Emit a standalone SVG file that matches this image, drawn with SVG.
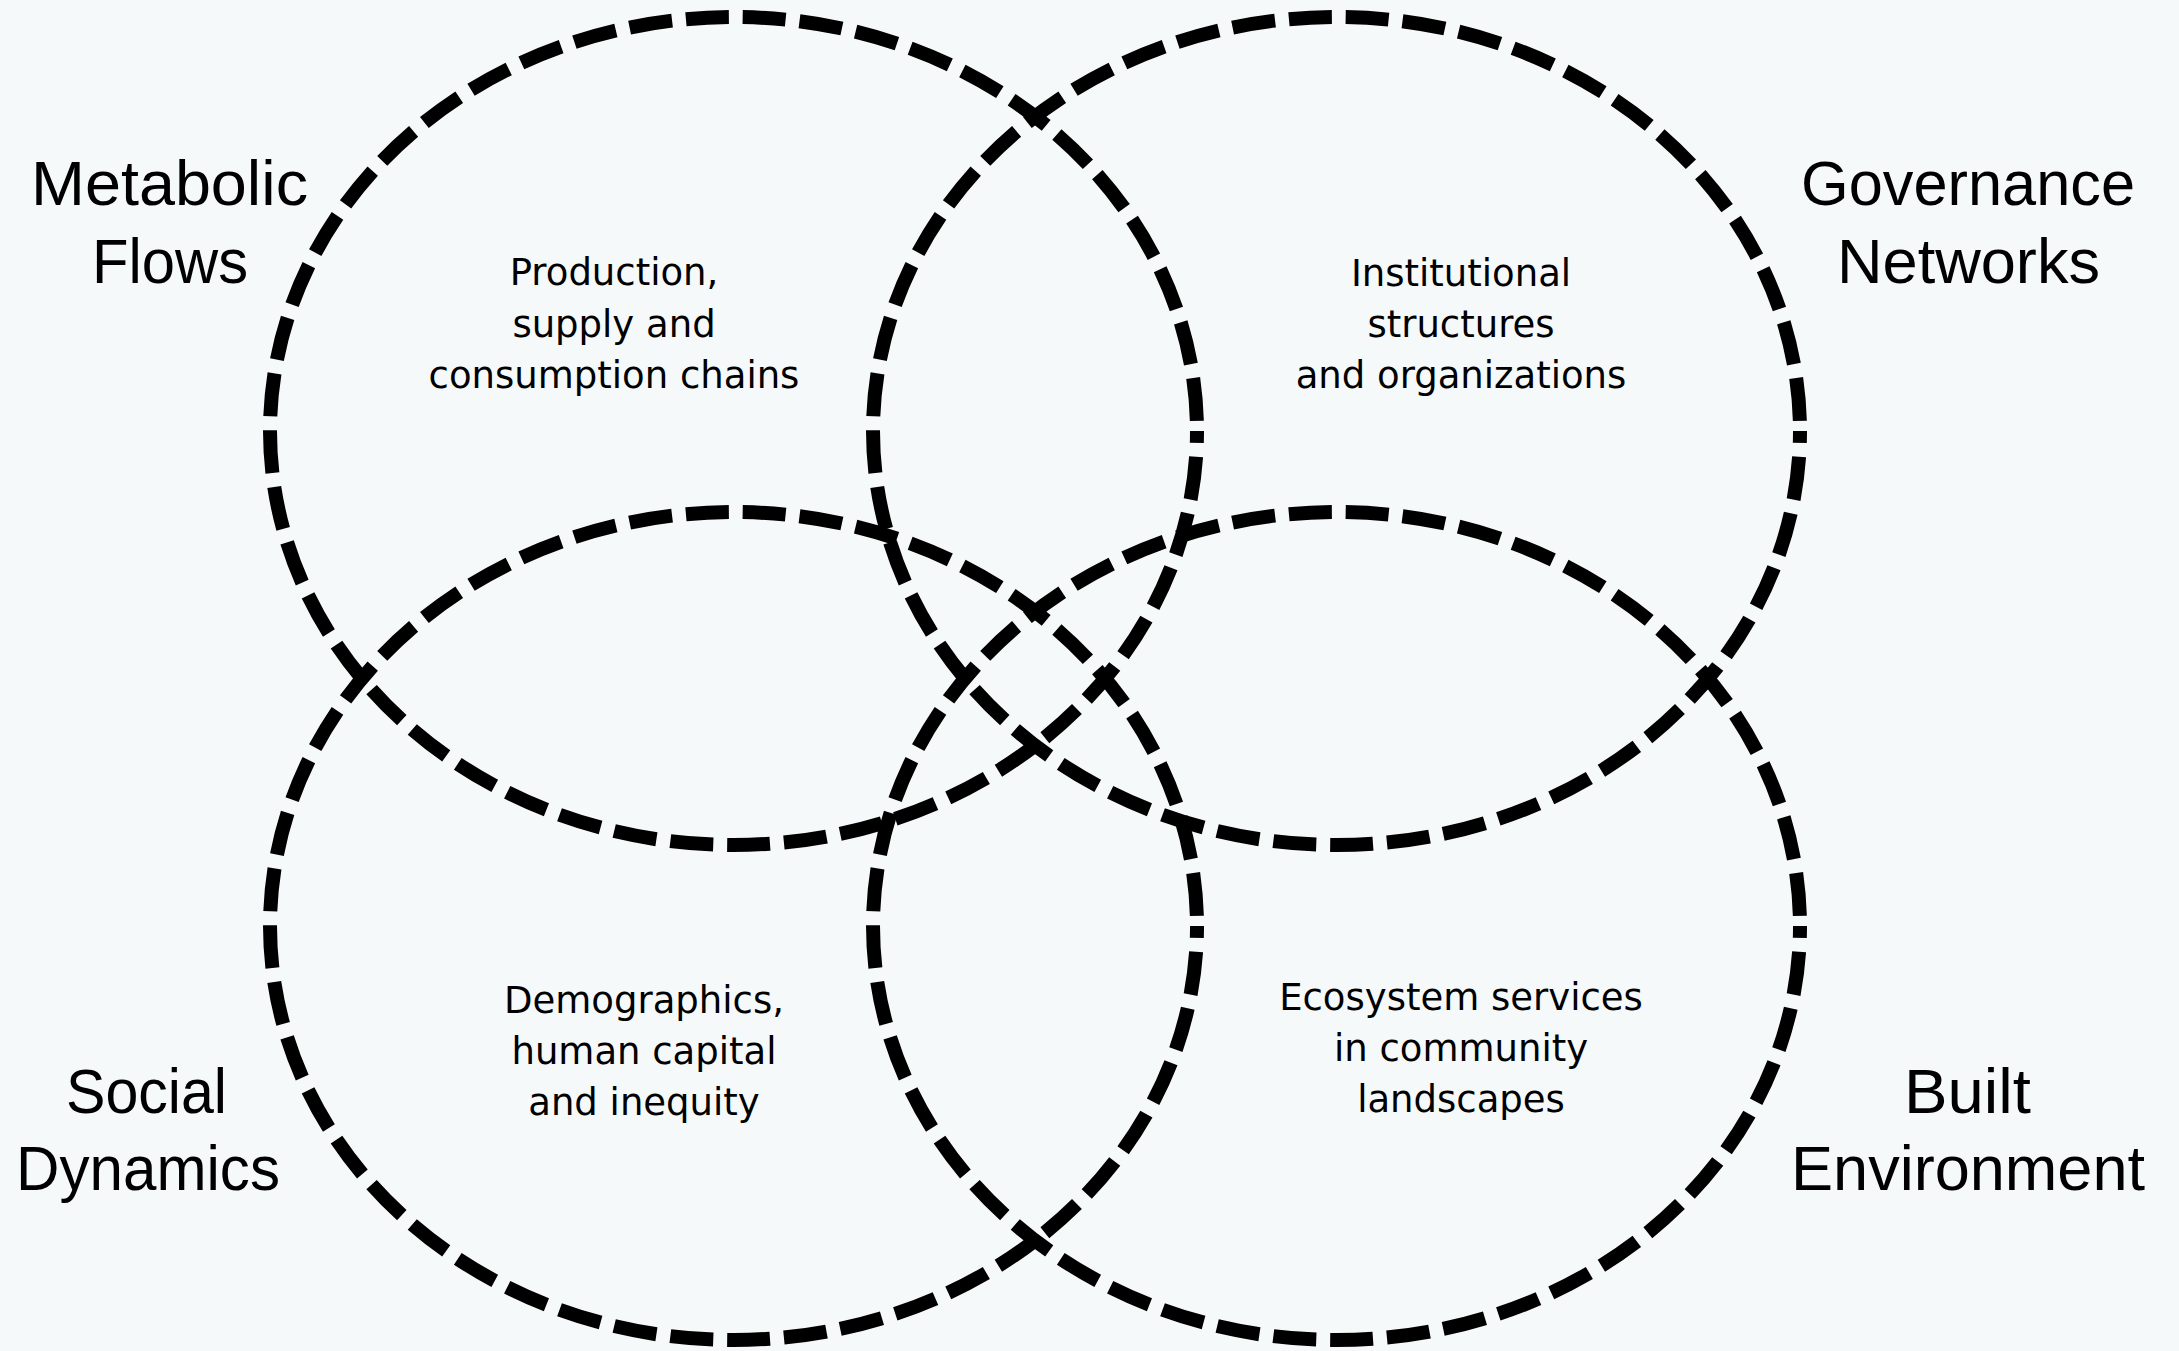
<svg xmlns="http://www.w3.org/2000/svg" width="2179" height="1351" viewBox="0 0 2179 1351">
<style>
.ring{fill:none;stroke:#000;stroke-width:14;stroke-dasharray:43 14;stroke-dashoffset:31}
.big{font-family:"Liberation Sans",Arial,sans-serif;font-size:63px;fill:#000;text-anchor:middle}
.small{font-family:"DejaVu Sans","Liberation Sans",sans-serif;font-size:37px;fill:#000;text-anchor:middle}
</style>
<rect x="0" y="0" width="2179" height="1351" fill="#f6f9fa"/>
<g id="connectors"/>
<g id="metabolic-flows">
<ellipse class="ring" cx="733.5" cy="431" rx="463.5" ry="414"/>
<text class="big" x="169.5" y="205" textLength="277" lengthAdjust="spacingAndGlyphs">Metabolic</text>
<text class="big" x="170" y="283" textLength="156" lengthAdjust="spacingAndGlyphs">Flows</text>
<text class="small" x="614" y="285">Production,</text>
<text class="small" x="614" y="337">supply and</text>
<text class="small" x="614" y="388">consumption chains</text>
</g>
<g id="governance-networks">
<ellipse class="ring" cx="1336.5" cy="431" rx="463.5" ry="414"/>
<text class="big" x="1968" y="205" textLength="334" lengthAdjust="spacingAndGlyphs">Governance</text>
<text class="big" x="1968.5" y="283" textLength="263" lengthAdjust="spacingAndGlyphs">Networks</text>
<text class="small" x="1461" y="286">Institutional</text>
<text class="small" x="1461" y="337">structures</text>
<text class="small" x="1461" y="388">and organizations</text>
</g>
<g id="social-dynamics">
<ellipse class="ring" cx="733.5" cy="926" rx="463.5" ry="414"/>
<text class="big" x="146.5" y="1113" textLength="161" lengthAdjust="spacingAndGlyphs">Social</text>
<text class="big" x="148" y="1190" textLength="264" lengthAdjust="spacingAndGlyphs">Dynamics</text>
<text class="small" x="644" y="1013">Demographics,</text>
<text class="small" x="644" y="1064">human capital</text>
<text class="small" x="644" y="1115">and inequity</text>
</g>
<g id="built-environment">
<ellipse class="ring" cx="1336.5" cy="926" rx="463.5" ry="414"/>
<text class="big" x="1967.5" y="1113" textLength="127" lengthAdjust="spacingAndGlyphs">Built</text>
<text class="big" x="1968" y="1190" textLength="354" lengthAdjust="spacingAndGlyphs">Environment</text>
<text class="small" x="1461" y="1010">Ecosystem services</text>
<text class="small" x="1461" y="1061">in community</text>
<text class="small" x="1461" y="1112">landscapes</text>
</g>
</svg>
